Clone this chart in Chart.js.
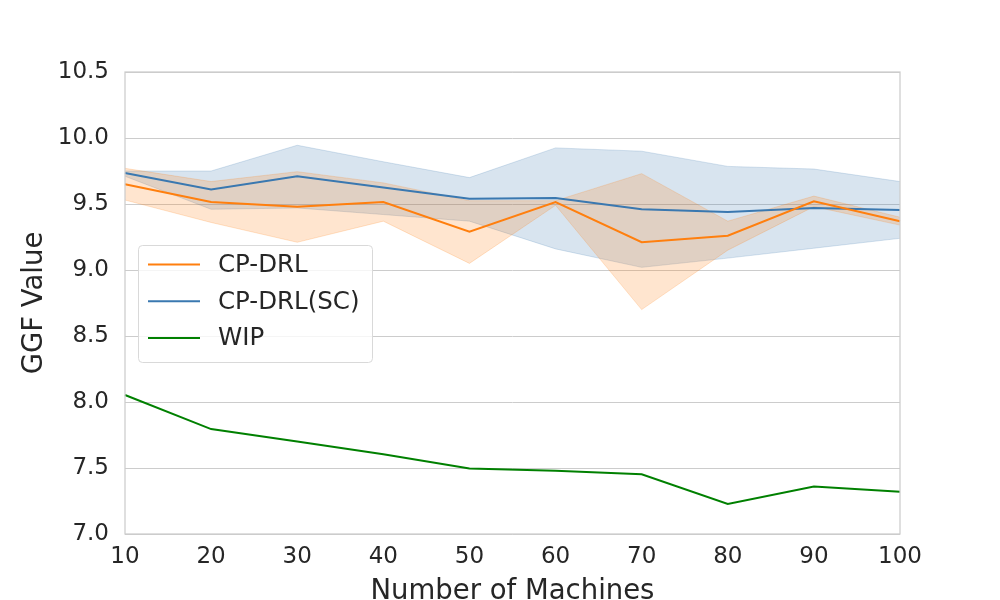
<!DOCTYPE html>
<html>
<head>
<meta charset="utf-8">
<script src="https://cdn.jsdelivr.net/npm/chart.js@4.4.1/dist/chart.umd.min.js"></script>
<style>
  body { margin: 0; background: #fff; }
  #wrap { width: 1000px; height: 600px; }
</style>
</head>
<body>
<div id="wrap"><canvas id="ggfChart"></canvas></div>
<script>
// values
const machines = [10, 20, 30, 40, 50, 60, 70, 80, 90, 100];

const cpdrlMean  = [9.65, 9.515, 9.48, 9.515, 9.29, 9.515, 9.21, 9.26, 9.52, 9.37];
const cpdrlUpper = [9.77, 9.67, 9.745, 9.66, 9.525, 9.525, 9.73, 9.37, 9.56, 9.40];
const cpdrlLower = [9.53, 9.36, 9.21, 9.37, 9.05, 9.49, 8.70, 9.15, 9.48, 9.34];

const scMean  = [9.735, 9.61, 9.71, 9.625, 9.54, 9.545, 9.46, 9.44, 9.47, 9.455];
const scUpper = [9.75, 9.75, 9.945, 9.82, 9.70, 9.925, 9.90, 9.785, 9.765, 9.67];
const scLower = [9.71, 9.46, 9.47, 9.42, 9.37, 9.16, 9.02, 9.09, 9.165, 9.24];

const wipValues = [8.053, 7.795, 7.70, 7.605, 7.497, 7.48, 7.452, 7.227, 7.36, 7.32];

const yTicks = [7.0, 7.5, 8.0, 8.5, 9.0, 9.5, 10.0, 10.5];

const ORANGE = '#ff7f0e';
const BLUE = '#3a78b0';
const GREEN = '#008000';
const TEXT = '#262626';
const FONT = "'DejaVu Sans', sans-serif";

// frame around plot + legend box inside the plot area
const framePlugin = {
  id: 'frame',
  afterDatasetsDraw(chart) {
    const { ctx, chartArea: a } = chart;
    ctx.save();
    ctx.strokeStyle = '#cccccc';
    ctx.lineWidth = 1.25;
    ctx.strokeRect(a.left, a.top, a.right - a.left, a.bottom - a.top);
    ctx.restore();
  },
  afterDraw(chart) {
    const { ctx } = chart;
    const items = chart.data.datasets.filter(d => d.inLegend);
    const x = 138, y = 245, w = 234, h = 117;
    ctx.save();
    ctx.fillStyle = 'rgba(255,255,255,0.8)';
    ctx.strokeStyle = '#d9d9d9';
    ctx.lineWidth = 1;
    ctx.beginPath();
    ctx.roundRect(x + 0.5, y + 0.5, w, h, 4);
    ctx.fill();
    ctx.stroke();
    ctx.font = '24.5px ' + FONT;
    ctx.textBaseline = 'middle';
    items.forEach((d, i) => {
      const cy = y + 19.5 + i * 36.7;
      ctx.strokeStyle = d.borderColor;
      ctx.lineWidth = 2;
      ctx.beginPath();
      ctx.moveTo(148, cy);
      ctx.lineTo(200, cy);
      ctx.stroke();
      ctx.fillStyle = TEXT;
      ctx.fillText(d.label, 218, cy + 1);
    });
    ctx.restore();
  }
};

const band = (data, color, fill) => ({
  label: '', data, borderColor: color, backgroundColor: color,
  borderWidth: 1, pointRadius: 0, fill, order: 5, tension: 0
});

new Chart(document.getElementById('ggfChart'), {
  type: 'line',
  data: {
    labels: machines,
    datasets: [
      { label: 'CP-DRL', data: cpdrlMean, borderColor: ORANGE, borderWidth: 2, pointRadius: 0, fill: false, order: 1, inLegend: true },
      { label: 'CP-DRL(SC)', data: scMean, borderColor: BLUE, borderWidth: 2, pointRadius: 0, fill: false, order: 1, inLegend: true },
      { label: 'WIP', data: wipValues, borderColor: GREEN, borderWidth: 2, pointRadius: 0, fill: false, order: 1, inLegend: true },
      band(cpdrlUpper, 'rgba(255,127,14,0.2)', '+1'),
      band(cpdrlLower, 'rgba(255,127,14,0.2)', false),
      band(scUpper, 'rgba(58,120,176,0.2)', '+1'),
      band(scLower, 'rgba(58,120,176,0.2)', false)
    ]
  },
  options: {
    responsive: true,
    maintainAspectRatio: false,
    animation: false,
    layout: { padding: { left: 0, right: 100, top: 72, bottom: 0 } },
    plugins: {
      legend: { display: false },
      tooltip: { enabled: false },
      filler: { propagate: false }
    },
    scales: {
      x: {
        type: 'category',
        offset: false,
        grid: { display: false, drawTicks: false },
        border: { display: false },
        ticks: { color: TEXT, font: { family: FONT, size: 23 }, padding: 9, maxRotation: 0 },
        title: { display: true, text: 'Number of Machines', color: TEXT, font: { family: FONT, size: 27.5, lineHeight: 0.6 }, padding: { top: 0, bottom: 0 } },
        afterFit(scale) { scale.height = 66; }
      },
      y: {
        min: 7, max: 10.5,
        afterBuildTicks(scale) { scale.ticks = yTicks.map(v => ({ value: v })); },
        grid: { color: '#cccccc', lineWidth: 1, drawTicks: false },
        border: { display: false },
        ticks: { color: TEXT, font: { family: FONT, size: 23 }, padding: 16, callback: v => Number(v).toFixed(1) },
        title: { display: true, text: 'GGF Value', color: TEXT, font: { family: FONT, size: 27.5, lineHeight: 1.2 }, padding: { top: 18, bottom: 0 } },
        afterFit(scale) { scale.width = 125; }
      }
    }
  },
  plugins: [framePlugin]
});
</script>
</body>
</html>
